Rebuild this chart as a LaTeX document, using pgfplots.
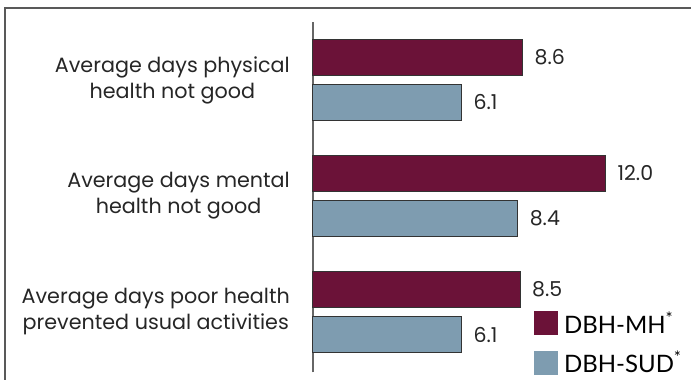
\documentclass[border=0pt]{standalone}
\usepackage{fontspec}
\setmainfont{Poppins}
\newfontfamily\legfont{Lato}
\usepackage{pgfplots}
\pgfplotsset{compat=1.18}
\definecolor{mh}{HTML}{6B1238}
\definecolor{sud}{HTML}{7E9CB0}
\begin{document}
\begin{tikzpicture}[x=1pt,y=1pt]
\path[use as bounding box] (-313,-68) rectangle (378,312);
\draw[line width=1.5pt, black!65] (-308,-80) -- (-308,304) -- (390,304);
\begin{axis}[
  at={(0,0)}, anchor=origin,
  x=24.4pt, y=116pt,
  xmin=0, xmax=15.5, ymin=-0.52, ymax=2.5,
  xbar, bar width=36pt,
  axis x line=none, axis y line=left,
  axis line style={-, draw=black!60, line width=1.2pt},
  ytick={0,1,2},
  yticklabels={{Average days poor health\\prevented usual activities},{Average days mental\\health not good},{Average days physical\\health not good}},
  major tick length=0pt,
  yticklabel style={align=center, inner sep=0pt, xshift=-23pt, font=\fontsize{20.7}{26}\selectfont, text=black!85},
  nodes near coords,
  nodes near coords style={/pgf/number format/.cd, fixed, fixed zerofill, precision=1, assume math mode=true, /tikz/.cd},
  every node near coord/.append style={anchor=west, xshift=8pt, font=\fontsize{20.5}{22}\selectfont, text=black!85},
  legend image code/.code={\fill[#1, draw=none] (0pt,-12pt) rectangle (24pt,12pt);},
  legend style={at={(axis cs:9.05,0.02)}, anchor=north west, draw=none, fill=none,
    font=\legfont\fontsize{24}{24}\selectfont, row sep=12pt, inner sep=0pt,
    nodes={inner xsep=6pt}},
  legend cell align=left,
  clip=false,
]
\addplot[fill=mh, draw=black!80, line width=1pt, bar shift=22.5pt] coordinates {(8.6,2) (12.0,1) (8.5,0)};
\addplot[fill=sud, draw=black!80, line width=1pt, bar shift=-22.5pt] coordinates {(6.1,2) (8.4,1) (6.1,0)};
\legend{DBH-MH\textsuperscript{*}, DBH-SUD\textsuperscript{*}}
\end{axis}
\end{tikzpicture}
\end{document}
